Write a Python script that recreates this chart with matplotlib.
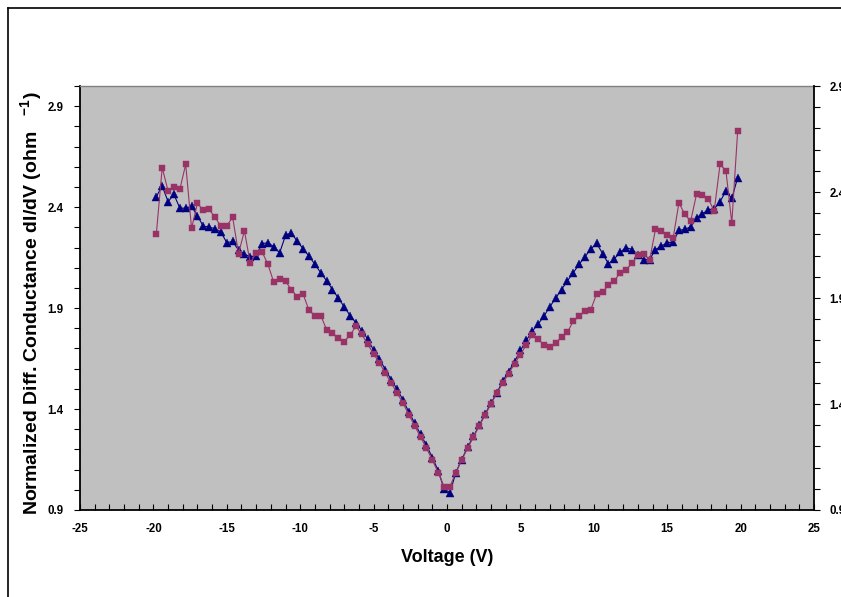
import numpy as np
import matplotlib
matplotlib.use("Agg")
import matplotlib.pyplot as plt
from matplotlib.lines import Line2D
from matplotlib.ticker import MultipleLocator, FixedLocator

plt.rcParams['font.family'] = ['Liberation Sans', 'DejaVu Sans']
plt.rcParams['mathtext.fontset'] = 'custom'
plt.rcParams['mathtext.rm'] = 'Liberation Sans'
plt.rcParams['mathtext.bf'] = 'Liberation Sans:bold'
plt.rcParams['axes.unicode_minus'] = False

# ---- data ----
voltage = np.round(np.arange(-19.8, 19.81, 0.4), 2)

triangles = [
    2.452, 2.505, 2.427, 2.463, 2.395, 2.395, 2.405, 2.356, 2.306, 2.301,
    2.293, 2.276, 2.224, 2.230, 2.187, 2.167, 2.154, 2.160, 2.219, 2.224,
    2.204, 2.174, 2.260, 2.273, 2.230, 2.194, 2.157, 2.117, 2.075, 2.035,
    1.992, 1.949, 1.906, 1.863, 1.827, 1.788, 1.747, 1.691, 1.648, 1.595,
    1.545, 1.499, 1.445, 1.385, 1.330, 1.275, 1.220, 1.160, 1.095, 1.005,
    0.985, 1.085, 1.150, 1.210, 1.265, 1.320, 1.375, 1.430, 1.480, 1.540,
    1.585, 1.635, 1.690, 1.740, 1.785, 1.820, 1.860, 1.906, 1.949, 1.992,
    2.035, 2.075, 2.117, 2.154, 2.194, 2.220, 2.170, 2.119, 2.144, 2.177,
    2.200, 2.190, 2.165, 2.140, 2.140, 2.190, 2.207, 2.224, 2.227, 2.285,
    2.290, 2.303, 2.348, 2.368, 2.386, 2.392, 2.427, 2.480, 2.443, 2.546,
]

squares = [
    2.268, 2.596, 2.480, 2.500, 2.488, 2.612, 2.295, 2.419, 2.384, 2.389,
    2.349, 2.306, 2.309, 2.349, 2.170, 2.283, 2.121, 2.174, 2.179, 2.117,
    2.028, 2.045, 2.032, 1.992, 1.956, 1.969, 1.889, 1.863, 1.863, 1.793,
    1.777, 1.750, 1.734, 1.767, 1.810, 1.770, 1.720, 1.674, 1.628, 1.578,
    1.529, 1.479, 1.430, 1.371, 1.317, 1.261, 1.206, 1.148, 1.085, 1.016,
    1.016, 1.085, 1.148, 1.206, 1.261, 1.317, 1.371, 1.426, 1.479, 1.529,
    1.575, 1.625, 1.669, 1.719, 1.767, 1.747, 1.717, 1.707, 1.727, 1.757,
    1.780, 1.835, 1.860, 1.886, 1.893, 1.972, 1.980, 2.013, 2.036, 2.075,
    2.091, 2.121, 2.162, 2.170, 2.137, 2.290, 2.283, 2.263, 2.245, 2.422,
    2.364, 2.331, 2.465, 2.458, 2.442, 2.381, 2.612, 2.581, 2.321, 2.777,
]

y_ticks = [0.9, 1.4, 1.9, 2.4, 2.9]
y_tick_labels = ["0.9", "1.4", "1.9", "2.4", "2.9"]
x_ticks = [-25, -20, -15, -10, -5, 0, 5, 10, 15, 20, 25]

W, H = 841, 597
fig = plt.figure(figsize=(W / 100, H / 100), dpi=100)
fig.patch.set_facecolor('white')

left, right, top, bottom = 80, 814, 86, 510
ax = fig.add_axes([left / W, 1 - bottom / H, (right - left) / W, (bottom - top) / H])
ax.set_facecolor('#C0C0C0')

ax.plot(voltage, triangles, color='#000080', lw=0.8, marker='^', ms=5.8,
        mfc='#000080', mec='#000080', mew=0.3, zorder=3)
ax.plot(voltage, squares, color='#993366', lw=0.8, marker='s', ms=4.6,
        mfc='#993366', mec='#993366', mew=0.3, zorder=4)

ax.set_xlim(-25, 25)
ax.set_ylim(0.9, 3.0)
ax.xaxis.set_major_locator(FixedLocator(x_ticks))
ax.xaxis.set_minor_locator(MultipleLocator(1))
ax.yaxis.set_major_locator(FixedLocator(y_ticks))
ax.yaxis.set_minor_locator(MultipleLocator(0.1))
ax.set_yticklabels(y_tick_labels)

for lab in ax.get_xticklabels() + ax.get_yticklabels():
    lab.set_fontweight('bold')
ax.tick_params(axis='x', which='both', direction='in', length=4, width=0.8,
               labelsize=8.3, pad=9, top=False)
ax.tick_params(axis='y', which='both', direction='out', length=4, width=0.8,
               labelsize=8.3, pad=8, right=False)

for s in ['left', 'bottom']:
    ax.spines[s].set_color('black')
    ax.spines[s].set_linewidth(1.3)
ax.spines['top'].set_color('#808080')
ax.spines['top'].set_linewidth(1.0)
ax.spines['right'].set_visible(False)

ax2 = ax.twinx()
ax2.set_ylim(0.9, 2.9)
ax2.yaxis.set_major_locator(FixedLocator(y_ticks))
ax2.yaxis.set_minor_locator(MultipleLocator(0.1))
ax2.set_yticklabels(y_tick_labels)
for lab in ax2.get_yticklabels():
    lab.set_fontweight('bold')
ax2.tick_params(axis='y', which='both', direction='out', length=4, width=0.8,
                labelsize=8.3, pad=7)
ax2.spines['right'].set_color('black')
ax2.spines['right'].set_linewidth(1.3)
for s in ['left', 'top', 'bottom']:
    ax2.spines[s].set_visible(False)

fig.text(447.5 / W, 1 - 557 / H, "Voltage (V)", ha='center', va='center',
         fontsize=13, fontweight='bold')
fig.text(32 / W, 1 - 303 / H,
         r"Normalized Diff. Conductance dI/dV (ohm   $^{\mathbf{-1}}$)",
         ha='center', va='center', rotation=90, fontsize=14, fontweight='bold')

# outer chart frame (clipped by the image edges)
fig.add_artist(Line2D([8 / W, 8 / W], [0, 1 - 8 / H], transform=fig.transFigure,
                      color='black', lw=1.2))
fig.add_artist(Line2D([8 / W, 1], [1 - 8 / H, 1 - 8 / H], transform=fig.transFigure,
                      color='black', lw=1.2))

fig.savefig("out.png", dpi=100)
